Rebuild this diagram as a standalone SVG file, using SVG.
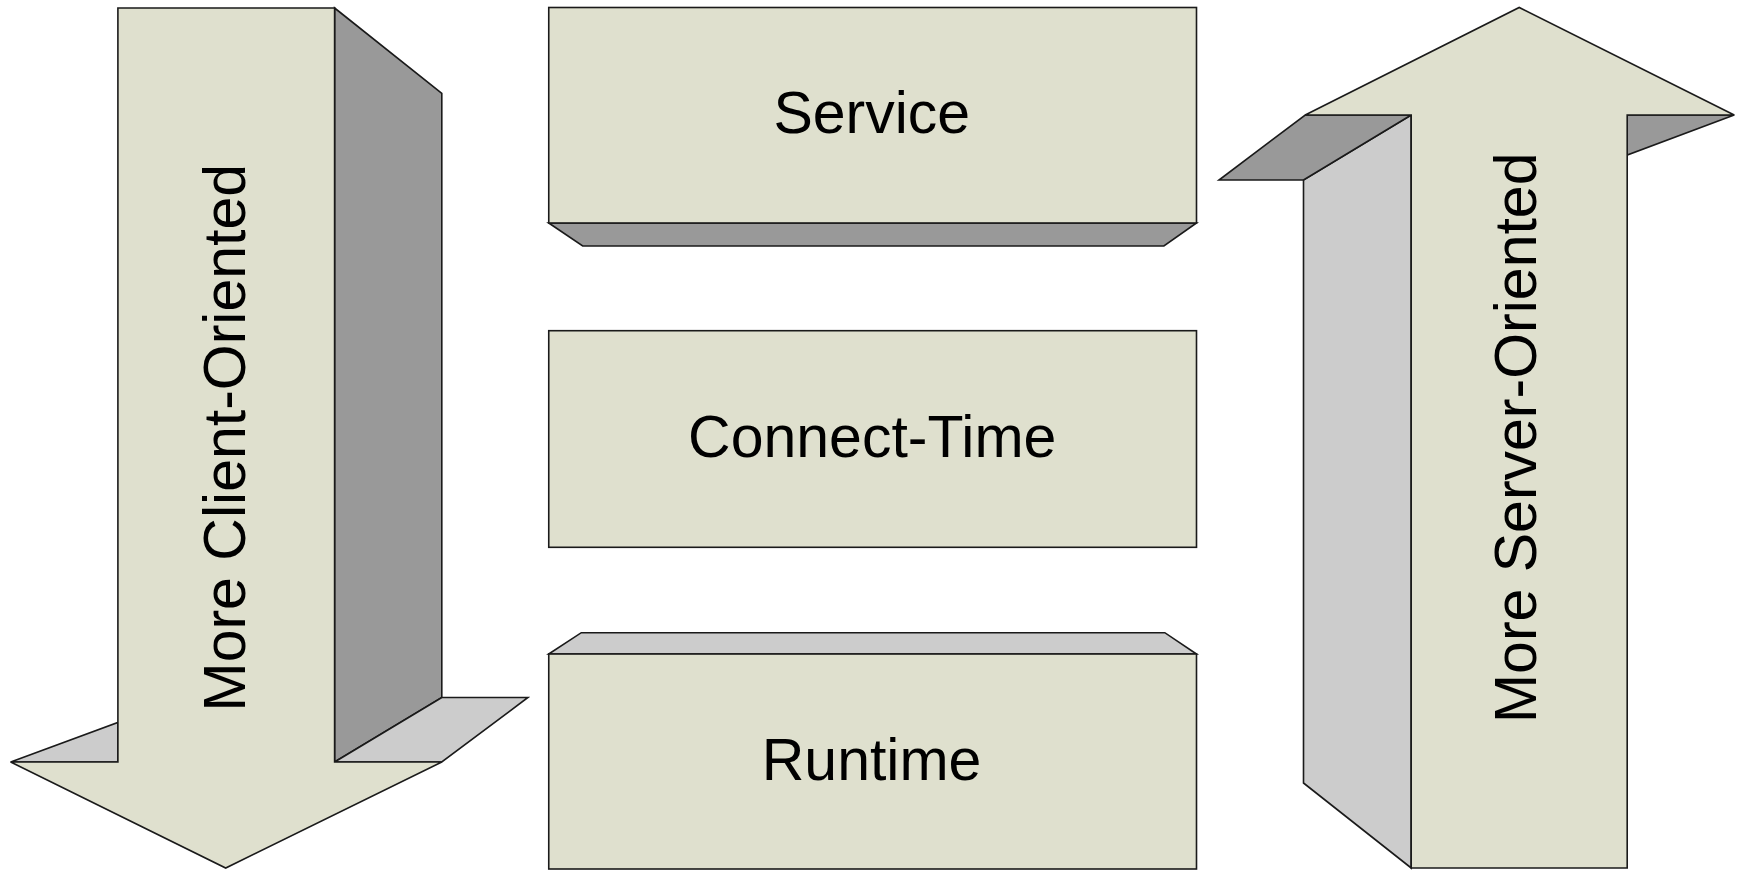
<svg xmlns="http://www.w3.org/2000/svg" width="1741" height="875" viewBox="0 0 1741 875">
<style>
.front{fill:#DFE0CE;stroke:#1a1a1a;stroke-width:1.6;stroke-linejoin:miter}
.dark{fill:#999999;stroke:#1a1a1a;stroke-width:1.6}
.light{fill:#CCCCCC;stroke:#1a1a1a;stroke-width:1.6}
.lbl{font-family:"Liberation Sans",Arial,sans-serif;font-size:59px;fill:#000;text-anchor:middle}
</style>
<rect width="1741" height="875" fill="#fff"/>
<g id="client-arrow">
<polygon class="dark" points="334.6,8 441.8,93.3 441.8,697.5 334.6,762"/>
<polygon class="light" points="334.6,762 441.8,697.5 527.9,697.5 441.8,762"/>
<polygon class="light" points="10.7,762 117.9,722.5 117.9,762"/>
<polygon class="front" points="117.9,8 334.6,8 334.6,762 441.8,762 225.7,868 10.7,762 117.9,762"/>
<text class="lbl" transform="translate(244.6,437.7) rotate(-90)">More Client-Oriented</text>
</g>
<g id="service">
<polygon class="dark" points="548.75,223 582.7,246 1163.9,246 1196.5,223"/>
<rect class="front" x="548.75" y="7.5" width="647.75" height="215.5"/>
<text class="lbl" x="871.8" y="133">Service</text>
</g>
<g id="connect-time">
<rect class="front" x="548.75" y="330.7" width="647.75" height="216.6"/>
<text class="lbl" x="872.2" y="456.7">Connect-Time</text>
</g>
<g id="runtime">
<polygon class="light" points="548.75,654 581.3,632.7 1164.8,632.7 1196.5,654"/>
<rect class="front" x="548.75" y="654" width="647.75" height="215"/>
<text class="lbl" x="871.6" y="780">Runtime</text>
</g>
<g id="server-arrow">
<polygon class="light" points="1411.2,115 1303.5,180 1303.5,783 1411.2,868"/>
<polygon class="dark" points="1305.2,115 1411.2,115 1303.5,180 1219,180"/>
<polygon class="dark" points="1627.2,115 1734.2,115 1627.2,155"/>
<polygon class="front" points="1411.2,868 1411.2,115 1305.2,115 1519.2,7.5 1734.2,115 1627.2,115 1627.2,868"/>
<text class="lbl" transform="translate(1536.4,437.8) rotate(-90)">More Server-Oriented</text>
</g>
<g id="connectors"></g>
</svg>
